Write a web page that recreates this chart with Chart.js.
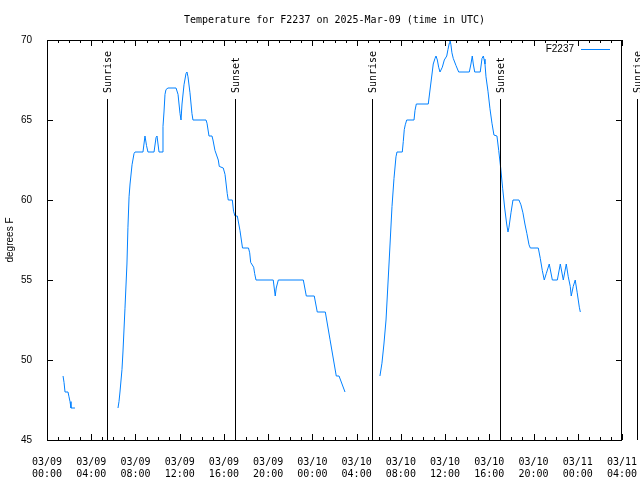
<!DOCTYPE html>
<html>
<head>
<meta charset="utf-8">
<script src="https://cdn.jsdelivr.net/npm/chart.js@4"></script>
<style>
  body { margin: 0; background: #fff; }
  canvas { display: block; }
</style>
</head>
<body>
<canvas id="myChart" width="640" height="480"></canvas>
<script>
// hours are counted from 03/09 00:00 UTC
const run1Hours = [1.45, 1.54, 1.63, 1.90, 1.99, 2.08, 2.17, 2.53];
const run1Temps = [49, 48.6, 48, 48, 47.7, 47.4, 47, 47];

const run2Hours = [6.42, 6.51, 6.60, 6.78, 6.87, 7.05, 7.23, 7.32, 7.42, 7.51,
    7.69, 7.87, 7.96, 8.68, 8.86, 9.00, 9.13, 9.68, 9.86, 9.95,
    10.13, 10.40, 10.49, 10.58, 10.67, 10.76, 10.94, 11.67, 11.85, 11.94,
    12.03, 12.12, 12.21, 12.39, 12.57, 12.66, 12.75, 12.93, 13.11, 13.20,
    14.38, 14.47, 14.65, 14.92, 15.01, 15.19, 15.49, 15.58, 15.94, 16.10,
    16.30, 16.39, 16.76, 16.87, 17.00, 17.21, 17.45, 17.68, 18.22, 18.33,
    18.42, 18.69, 18.78, 18.90, 20.46, 20.64, 20.73, 20.92, 23.18, 23.45,
    24.17, 24.44, 25.17, 25.59, 26.16, 26.41, 26.68, 26.95];
const run2Temps = [47, 47.4, 48, 49.4, 50.5, 53.2, 56, 58.3, 60.2, 61,
    62.2, 62.9, 63, 63, 64, 63.4, 63, 63, 63.9, 64,
    63, 63, 64.6, 65.5, 66.6, 66.9, 67, 67, 66.6, 66,
    65.4, 65, 66, 67.2, 67.9, 68, 67.7, 66.7, 65.4, 65,
    65, 64.8, 64, 64, 63.75, 63.1, 62.5, 62.1, 62, 61.6,
    60.4, 60, 60, 59.3, 59, 59, 58.1, 57, 57, 56.7,
    56.1, 55.8, 55.4, 55, 55, 54, 54.5, 55, 55, 54,
    54, 53, 53, 51.3, 49, 49, 48.5, 48];

const run3Hours = [30.11, 30.29, 30.47, 30.66, 30.93, 31.20, 31.38, 31.56, 31.65, 32.13,
    32.22, 32.31, 32.40, 32.53, 33.19, 33.28, 33.40, 34.48, 34.66, 34.84,
    34.93, 35.09, 35.18, 35.30, 35.42, 35.54, 35.75, 35.93, 36.15, 36.26,
    36.38, 36.44, 36.53, 36.62, 36.74, 36.99, 37.23, 38.19, 38.34, 38.46,
    38.55, 38.68, 39.18, 39.34, 39.46, 39.52, 39.61, 39.70, 39.88, 40.06,
    40.24, 40.42, 40.69, 40.85, 41.03, 41.21, 41.39, 41.57, 41.69, 41.78,
    41.96, 42.14, 42.68, 42.86, 43.04, 43.22, 43.40, 43.59, 43.71, 44.43,
    44.61, 44.79, 44.97, 45.15, 45.42, 45.70, 46.15, 46.42, 46.69, 46.96,
    47.14, 47.32, 47.41, 47.59, 47.77, 47.95, 48.14, 48.23];
const run3Temps = [49, 49.8, 51, 52.5, 56, 59.6, 61.35, 62.7, 63, 63,
    63.65, 64.4, 64.7, 65, 65, 65.6, 66, 66, 67, 68,
    68.5, 68.85, 69, 68.75, 68.3, 68, 68.3, 68.75, 69, 69.4,
    69.8, 70, 69.7, 69.2, 68.85, 68.4, 68, 68, 68.5, 69,
    68.5, 68, 68, 68.85, 69, 68.8, 68.5, 67.7, 66.8, 65.7,
    64.8, 64.06, 64, 63.1, 62, 60.7, 59.5, 58.5, 58, 58.3,
    59.2, 60, 60, 59.7, 59.2, 58.5, 57.9, 57.2, 57, 57,
    56.35, 55.6, 55, 55.4, 56, 55, 55, 56, 55, 56,
    55.2, 54.6, 54, 54.6, 55, 54.2, 53.3, 53];

const sunLabels = ['Sunrise', 'Sunset', 'Sunrise', 'Sunset', 'Sunrise'];
const sunHours = [5.43, 17.0, 29.4, 40.97, 53.38];
const sunLineTop = 66.3; // degrees F

const tickDates = ['03/09', '03/09', '03/09', '03/09', '03/09', '03/09',
    '03/10', '03/10', '03/10', '03/10', '03/10', '03/10', '03/11', '03/11'];
const tickTimes = ['00:00', '04:00', '08:00', '12:00', '16:00', '20:00',
    '00:00', '04:00', '08:00', '12:00', '16:00', '20:00', '00:00', '04:00'];

const titleText = 'Temperature for F2237 on 2025-Mar-09 (time in UTC)';
const seriesName = 'F2237';
const lineColor = 'rgb(0,128,255)';

const MONO = '10px "DejaVu Sans Mono"';
const SANS = '10px "Liberation Sans"';

function buildPoints() {
    const pts = [];
    [[run1Hours, run1Temps], [run2Hours, run2Temps], [run3Hours, run3Temps]].forEach(([h, t], k) => {
        if (k > 0) pts.push({ x: h[0] - 0.01, y: null });
        h.forEach((x, i) => pts.push({ x: x, y: t[i] }));
    });
    return pts;
}

const decor = {
    id: 'decor',
    afterDatasetsDraw(chart) {
        const { ctx, chartArea: a, scales: { x, y } } = chart;
        ctx.save();
        // sunrise / sunset markers
        const topPx = Math.round(y.getPixelForValue(sunLineTop));
        sunHours.forEach((h, i) => {
            const px = Math.round(x.getPixelForValue(h)) + 0.5;
            ctx.strokeStyle = '#000';
            ctx.lineWidth = 1;
            ctx.beginPath();
            ctx.moveTo(px, topPx);
            ctx.lineTo(px, a.bottom);
            ctx.stroke();
            ctx.save();
            ctx.translate(px + 1, topPx - 6);
            ctx.rotate(-Math.PI / 2);
            ctx.font = MONO;
            ctx.fillStyle = '#000';
            ctx.textAlign = 'left';
            ctx.textBaseline = 'middle';
            ctx.fillText(sunLabels[i], 0, 0);
            ctx.restore();
        });

        // frame
        ctx.strokeStyle = '#000';
        ctx.lineWidth = 1;
        ctx.strokeRect(Math.round(a.left) + 0.5, Math.round(a.top) + 0.5,
            Math.round(a.width) - 1, Math.round(a.height));

        // inward ticks
        ctx.beginPath();
        for (let h = x.min; h <= x.max; h++) {
            const len = h % 4 === 0 ? 6 : 3;
            const px = Math.round(x.getPixelForValue(h)) + 0.5;
            ctx.moveTo(px, a.bottom);
            ctx.lineTo(px, a.bottom - len);
            ctx.moveTo(px, a.top);
            ctx.lineTo(px, a.top + len);
        }
        for (let v = y.min; v <= y.max; v += 5) {
            const py = Math.round(y.getPixelForValue(v)) + 0.5;
            ctx.moveTo(a.left, py);
            ctx.lineTo(a.left + 6, py);
            ctx.moveTo(a.right, py);
            ctx.lineTo(a.right - 6, py);
        }
        ctx.stroke();

        // title
        ctx.font = MONO;
        ctx.fillStyle = '#000';
        ctx.textAlign = 'center';
        ctx.textBaseline = 'middle';
        ctx.fillText(titleText, (a.left + a.right) / 2, 20);

        // legend
        ctx.font = SANS;
        ctx.textAlign = 'right';
        ctx.fillText(seriesName, a.right - 48, a.top + 9);
        ctx.strokeStyle = lineColor;
        ctx.beginPath();
        ctx.moveTo(a.right - 41, a.top + 9.5);
        ctx.lineTo(a.right - 12, a.top + 9.5);
        ctx.stroke();
        ctx.restore();
    }
};

const ctx = document.getElementById('myChart').getContext('2d');
const chart = new Chart(ctx, {
    type: 'line',
    data: {
        datasets: [{
            label: seriesName,
            data: buildPoints(),
            borderColor: lineColor,
            borderWidth: 1,
            pointRadius: 0,
            tension: 0,
            spanGaps: false
        }]
    },
    options: {
        responsive: false,
        animation: false,
        devicePixelRatio: 1,
        layout: { padding: { top: 40, right: 18, left: 0, bottom: 0 } },
        plugins: {
            legend: { display: false },
            title: { display: false },
            tooltip: { enabled: false }
        },
        scales: {
            x: {
                type: 'linear',
                min: 0,
                max: 52,
                grid: { display: false },
                border: { display: false },
                afterFit: s => { s.height = 40; s.paddingLeft = 0; s.paddingRight = 0; },
                ticks: {
                    stepSize: 4,
                    autoSkip: false,
                    maxRotation: 0,
                    padding: 8,
                    color: '#000',
                    font: { family: 'DejaVu Sans Mono', size: 10, lineHeight: 1.2 },
                    callback: v => [tickDates[v / 4], tickTimes[v / 4]]
                }
            },
            y: {
                min: 45,
                max: 70,
                grid: { display: false },
                border: { display: false },
                afterFit: s => { s.width = 47; s.paddingTop = 0; s.paddingBottom = 0; },
                title: {
                    display: true,
                    text: 'degrees F',
                    color: '#000',
                    font: { family: 'Liberation Sans', size: 10 },
                    padding: { top: 4, bottom: 0 }
                },
                ticks: {
                    stepSize: 5,
                    padding: 7,
                    color: '#000',
                    font: { family: 'Liberation Sans', size: 10 }
                }
            }
        }
    },
    plugins: [decor]
});
</script>
</body>
</html>
